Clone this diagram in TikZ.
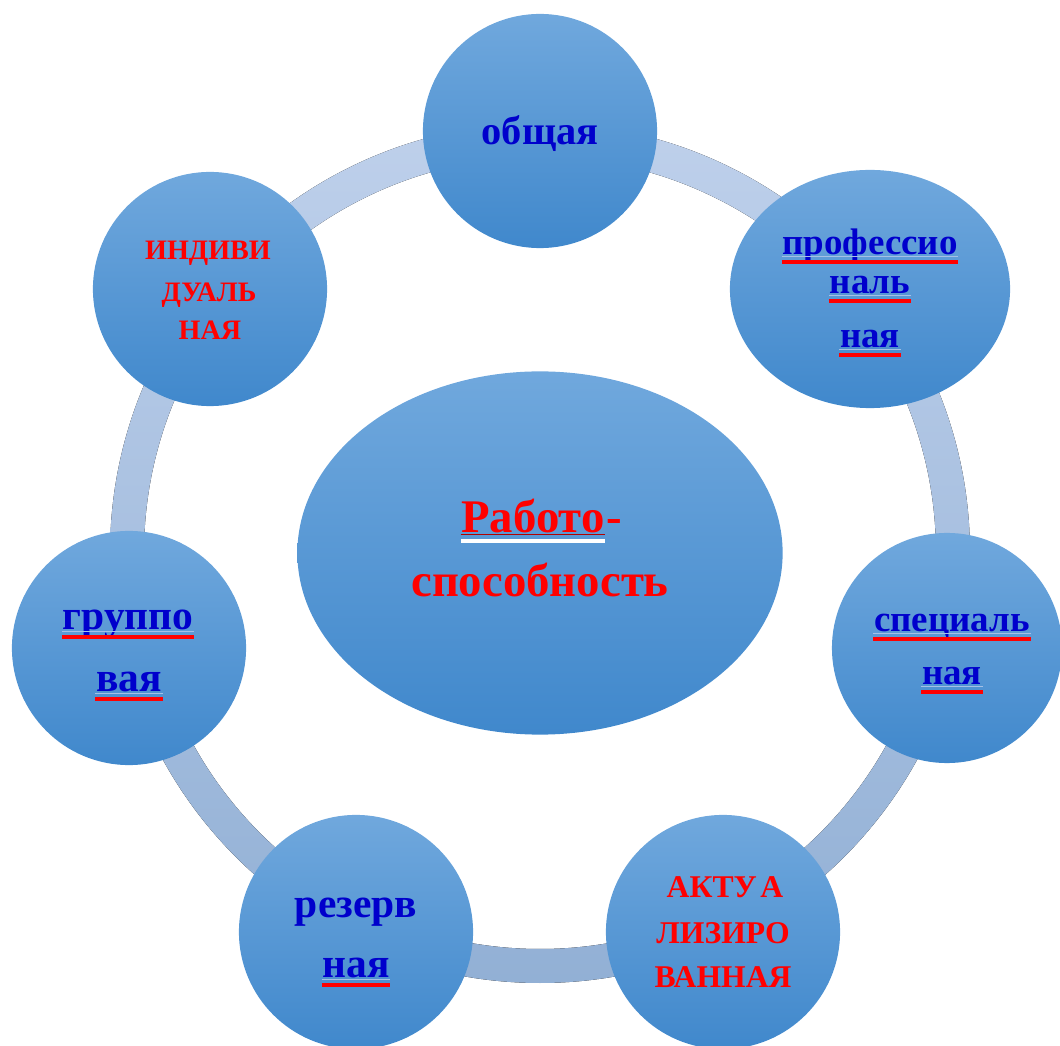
\documentclass[tikz,border=0pt]{standalone}
\usepackage{fontspec}
\setmainfont{Liberation Serif}
\usepackage{tikz}
\usetikzlibrary{shapes.geometric}
\definecolor{balltop}{RGB}{112,168,221}
\definecolor{ballbot}{RGB}{64,136,204}
\definecolor{ringtop}{RGB}{190,208,235}
\definecolor{ringbot}{RGB}{146,176,213}
\definecolor{wordblue}{RGB}{0,0,204}
\definecolor{hairblue}{RGB}{165,192,230}

\begin{document}
\begin{tikzpicture}[x=0.01cm, y=-0.01cm,
      bubble/.style = {circle, minimum size=2.34cm, inner sep=0pt,
        top color=balltop, bottom color=ballbot},
      blueword/.style = {anchor=base, inner sep=0pt, text=wordblue,
        font=\bfseries\fontsize{11.8}{12}\selectfont},
      smallblue/.style = {blueword, font=\bfseries\fontsize{10.5}{12}\selectfont},
      capsword/.style = {anchor=base, inner sep=0pt, text=red,
        font=\bfseries\fontsize{8}{10}\selectfont},
      bigcaps/.style = {capsword, font=\bfseries\fontsize{9}{10}\selectfont},
      bigword/.style = {anchor=base, inner sep=0pt, text=red,
        font=\bfseries\fontsize{13.3}{14}\selectfont},
      redline/.style = {draw=red, line width=1.1pt},
      hairline/.style = {draw=hairblue, line width=0.3pt}
    ]
      \useasboundingbox (0,0) rectangle (1060,1046);

      % ring behind the bubbles
      \fill[even odd rule, top color=ringtop, bottom color=ringbot]
        (540,553) circle (430) (540,553) circle (396);

      % centre
      \node[ellipse, minimum width=4.85cm, minimum height=3.63cm,
        top color=balltop, bottom color=ballbot] (core) at (540,553) {};

      % outer bubbles
      \node[bubble] (general) at (540,131) {};
      \node[bubble, ellipse, minimum width=2.8cm, minimum height=2.38cm] (prof) at (870,289) {};
      \node[bubble, minimum size=2.3cm] (spec) at (947,648) {};
      \node[bubble] (actual) at (723,932) {};
      \node[bubble] (reserve) at (356,932) {};
      \node[bubble] (group) at (129,648) {};
      \node[bubble] (indiv) at (210,289) {};

      % words
      \node[bigword] (work1) at (533,533) {Работо};
      \node[bigword, anchor=base west] (work2) at (work1.base east) {-};
      \node[bigword] (work3) at (540,597) {способность};

      \node[blueword, font=\bfseries\fontsize{11.5}{12}\selectfont] (gen1) at (540,145) {общая};
      \node[smallblue] (prof1) at (870,255) {профессио};
      \node[smallblue] (prof2) at (870,294) {наль};
      \node[smallblue] (prof3) at (870,348) {ная};
      \node[smallblue] (spec1) at (952,632) {специаль};
      \node[smallblue] (spec2) at (952,685) {ная};
      \node[blueword] (grp1) at (128,630) {группо};
      \node[blueword] (grp2) at (129,692) {вая};
      \node[blueword] (res1) at (356,917) {резерв};
      \node[blueword] (res2) at (356,978) {ная};

      \node[capsword] (ind1) at (208,260) {ИНДИВИ};
      \node[capsword] (ind2) at (209,302) {ДУАЛЬ};
      \node[capsword] (ind3) at (210,340) {НАЯ};
      \node[bigcaps] (act1) at (725,897) {АКТУ\kern1pt А};
      \node[bigcaps] (act2) at (723,943) {ЛИЗИРО};
      \node[bigcaps] (act3) at (723,988) {ВАННАЯ};

      % underlines
      \foreach \w in {prof1,prof2,prof3,spec1,spec2,grp1,grp2,res2} {
        \draw[hairline] ([yshift=-0.4pt]\w.base west) -- ([yshift=-0.4pt]\w.base east);
        \draw[redline] ([yshift=-1.9pt]\w.base west) -- ([yshift=-1.9pt]\w.base east);
      }
      \draw[draw=red!70!black, line width=0.3pt] ([yshift=-0.3pt]work1.base west) -- ([yshift=-0.3pt]work1.base east);
      \draw[draw=white, line width=1.15pt] ([yshift=-2.3pt]work1.base west) -- ([yshift=-2.3pt]work1.base east);
  \end{tikzpicture}
\end{document}
